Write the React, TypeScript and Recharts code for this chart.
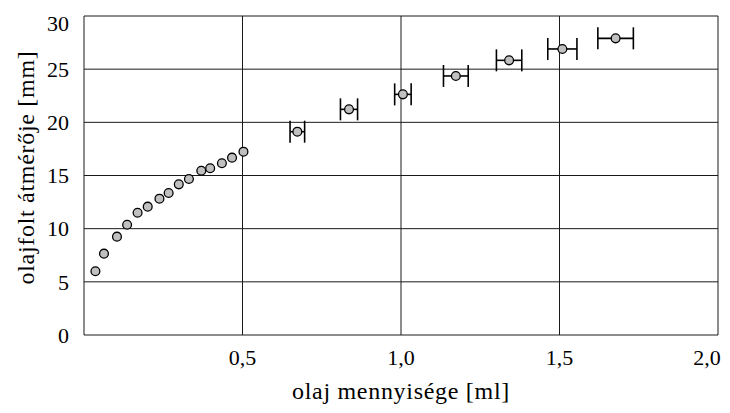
import React from "react";
import {
  ScatterChart,
  Scatter,
  XAxis,
  YAxis,
  CartesianGrid,
  ErrorBar,
} from "recharts";

// olaj mennyisége [ml] – single drops (no error bar)
const dropVolumes = [0.036, 0.063, 0.104, 0.136, 0.169, 0.201, 0.238, 0.267, 0.299, 0.331, 0.37, 0.398, 0.435, 0.467, 0.503];
// olajfolt átmérője [mm]
const dropDiameters = [6.0, 7.65, 9.25, 10.37, 11.5, 12.07, 12.82, 13.35, 14.17, 14.67, 15.45, 15.68, 16.15, 16.68, 17.24];

// measurements with horizontal error bars
const bulkVolumes = [0.673, 0.836, 1.006, 1.173, 1.341, 1.509, 1.677];
const bulkDiameters = [19.12, 21.22, 22.63, 24.36, 25.83, 26.9, 27.9];
const bulkVolumeErrors = [0.023, 0.027, 0.026, 0.039, 0.04, 0.046, 0.056];

const xTicks = [0, 0.5, 1.0, 1.5, 2.0];
const yTicks = [0, 5, 10, 15, 20, 25, 30];

const xTitle = "olaj mennyisége [ml]";
const yTitle = "olajfolt átmérője [mm]";

const dropData = dropVolumes.map((x, i) => ({ x, y: dropDiameters[i] }));
const bulkData = bulkVolumes.map((x, i) => ({ x, y: bulkDiameters[i], err: bulkVolumeErrors[i] }));

const FONT = "'Liberation Serif', 'DejaVu Serif', 'Noto Serif', Times, serif";

const Dot = (props: any) => {
  const { cx, cy } = props;
  if (cx == null || cy == null) return null;
  return <circle cx={cx} cy={cy} r={4.4} fill="#c0c0c0" stroke="#000" strokeWidth={1.3} />;
};

const fmtX = (v: number) => (v === 0 ? "" : v.toFixed(1).replace(".", ","));

const XTick = (props: any) => {
  const { x, y, payload } = props;
  const v = payload.value as number;
  const last = v === xTicks[xTicks.length - 1];
  return (
    <text
      x={x + (last ? -11 : 0)}
      y={y}
      dy="0.71em"
      textAnchor="middle"
      style={{ fontFamily: FONT }}
      fontSize={22}
      fill="#000"
    >
      {fmtX(v)}
    </text>
  );
};

const YTick = (props: any) => {
  const { x, y, payload } = props;
  const v = payload.value as number;
  const top = v === yTicks[yTicks.length - 1];
  return (
    <text
      x={x}
      y={y + (top ? 6 : 0)}
      dy="0.355em"
      textAnchor="end"
      style={{ fontFamily: FONT }}
      fontSize={22}
      fill="#000"
    >
      {String(v)}
    </text>
  );
};

const YTitle = (p: any) => {
  const vb = p.viewBox || {};
  const x = vb.x + 26;
  const y = vb.y + vb.height / 2 - 8;
  return (
    <text
      x={x}
      y={y}
      transform={`rotate(-90, ${x}, ${y})`}
      textAnchor="middle"
      style={{ fontFamily: FONT, letterSpacing: "0.7px" }}
      fontSize={24}
      fill="#000"
    >
      {yTitle}
    </text>
  );
};

const XTitle = (p: any) => {
  const vb = p.viewBox || {};
  const x = vb.x + vb.width / 2;
  const y = vb.y + vb.height - 14;
  return (
    <text
      x={x}
      y={y}
      textAnchor="middle"
      style={{ fontFamily: FONT, letterSpacing: "0.7px" }}
      fontSize={24}
      fill="#000"
    >
      {xTitle}
    </text>
  );
};

export default function App() {
  return (
    <ScatterChart
      width={722}
      height={405}
      margin={{ top: 8, right: 12, bottom: 0, left: 0 }}
      style={{ fontFamily: FONT }}
    >
      <CartesianGrid stroke="#1a1a1a" strokeWidth={1} />
      <XAxis
        type="number"
        dataKey="x"
        domain={[0, 2]}
        ticks={xTicks}
        allowDataOverflow
        axisLine={false}
        tickLine={false}
        tickSize={0}
        tickMargin={14}
        height={78}
        tick={<XTick />}
        label={{ content: XTitle }}
      />
      <YAxis
        type="number"
        dataKey="y"
        domain={[0, 30]}
        ticks={yTicks}
        allowDataOverflow
        axisLine={false}
        tickLine={false}
        tickSize={0}
        tickMargin={15}
        width={76}
        tick={<YTick />}
        label={{ content: YTitle }}
      />
      <Scatter data={dropData} shape={Dot} isAnimationActive={false} />
      <Scatter data={bulkData} shape={Dot} isAnimationActive={false}>
        <ErrorBar dataKey="err" direction="x" width={11} stroke="#000" strokeWidth={1.6} />
      </Scatter>
    </ScatterChart>
  );
}
